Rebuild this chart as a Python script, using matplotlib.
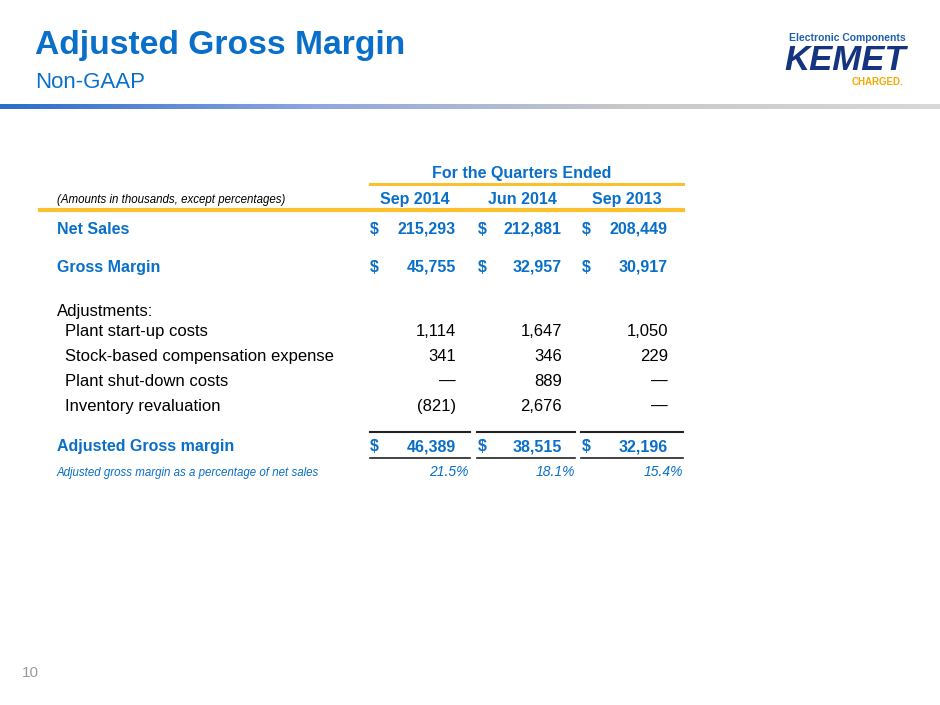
import numpy as np
import matplotlib.pyplot as plt
from matplotlib.colors import LinearSegmentedColormap
from matplotlib import font_manager

fams = {f.name for f in font_manager.fontManager.ttflist}
main_font = 'Liberation Sans' if 'Liberation Sans' in fams else 'DejaVu Sans'
plt.rcParams['font.family'] = [main_font, 'DejaVu Sans']

BLUE = '#0a6fc9'
ORANGE = '#fbc02d'

title = 'Adjusted Gross Margin'
subtitle = 'Non-GAAP'
quarters = ['Sep 2014', 'Jun 2014', 'Sep 2013']
net_sales = ['215,293', '212,881', '208,449']
gross_margin = ['45,755', '32,957', '30,917']
adj_labels = ['Plant start-up costs', 'Stock-based compensation expense',
              'Plant shut-down costs', 'Inventory revaluation']
adj_values = [['1,114', '1,647', '1,050'],
              ['341', '346', '229'],
              ['\u2014', '889', '\u2014'],
              ['(821)', '2,676', '\u2014']]
adj_gross = ['46,389', '38,515', '32,196']
adj_pct = ['21.5%', '18.1%', '15.4%']

fig = plt.figure(figsize=(9.4, 7.05), dpi=100)
ax = fig.add_axes([0, 0, 1, 1])
ax.set_xlim(0, 940)
ax.set_ylim(705, 0)
ax.axis('off')

B = 5  # baseline offset from row centre

# header
ax.text(35, 45 + 9, title, color=BLUE, fontsize=24.2, fontweight='bold', va='baseline')
ax.text(35, 81 + 7, subtitle, color=BLUE, fontsize=16, va='baseline')
grad = LinearSegmentedColormap.from_list('g', ['#2a6cc8', '#8fa6e0', '#c8c8c8', '#d8d8d8'])
ax.imshow(np.linspace(0, 1, 256)[None, :], cmap=grad, aspect='auto',
          extent=[0, 940, 109, 104], zorder=1)

# logo
ax.text(847, 38, 'Electronic Components', color='#1f5fae', fontsize=7.5,
        fontweight='bold', ha='center', va='center')
ax.text(845, 61, 'KEMET', color='#14347f', fontsize=25, fontweight='bold',
        style='italic', ha='center', va='center')
ax.text(878, 82, 'CHARGED.', color='#f2a900', fontsize=7, fontweight='bold',
        ha='center', va='center')

# table
col_dollar = [370, 478, 582]
col_right = [456, 562, 668]
col_center = [415, 522, 627]
col_pct = [469, 575, 683]
col_line = [(370, 470), (477, 575), (581, 683)]

ax.text(522, 173 + B, 'For the Quarters Ended', color=BLUE, fontsize=11.5,
        fontweight='bold', ha='center', va='baseline')
ax.plot([370, 683], [184, 184], color=ORANGE, lw=2.2)
ax.text(57, 199 + 4, '(Amounts in thousands, except percentages)', fontsize=8.3,
        style='italic', va='baseline')
for x, q in zip(col_center, quarters):
    ax.text(x, 199 + B, q, color=BLUE, fontsize=11.5, fontweight='bold',
            ha='center', va='baseline')
ax.plot([40, 683], [210, 210], color=ORANGE, lw=3)


def money_row(y, label, vals):
    ax.text(57, y + B, label, color=BLUE, fontsize=11.5, fontweight='bold', va='baseline')
    for xd, xr, v in zip(col_dollar, col_right, vals):
        ax.text(xd, y + B, '$', color=BLUE, fontsize=11.5, fontweight='bold', va='baseline')
        ax.text(xr, y + B, v, color=BLUE, fontsize=11.5, fontweight='bold',
                ha='right', va='baseline')


money_row(229, 'Net Sales', net_sales)
money_row(267, 'Gross Margin', gross_margin)

ax.text(57, 311 + B, 'Adjustments:', fontsize=12, va='baseline')
for i, (lab, vals) in enumerate(zip(adj_labels, adj_values)):
    y = 331 + 25 * i + B
    ax.text(65, y, lab, fontsize=12, va='baseline')
    for xr, v in zip(col_right, vals):
        ax.text(xr, y, v, fontsize=12, ha='right', va='baseline')

for x0, x1 in col_line:
    ax.plot([x0, x1], [432, 432], color='#222222', lw=1.5)
    ax.plot([x0, x1], [458, 458], color='#222222', lw=1.2)
money_row(446, 'Adjusted Gross margin', adj_gross)

ax.text(57, 472 + 4, 'Adjusted gross margin as a percentage of net sales', color=BLUE,
        fontsize=8.3, style='italic', va='baseline')
for xr, v in zip(col_pct, adj_pct):
    ax.text(xr, 472 + 4, v, color=BLUE, fontsize=10, style='italic', ha='right', va='baseline')

ax.text(22, 672 + 5, '10', color='#9a9a9a', fontsize=11, va='baseline')

fig.savefig('out.png', dpi=100)
